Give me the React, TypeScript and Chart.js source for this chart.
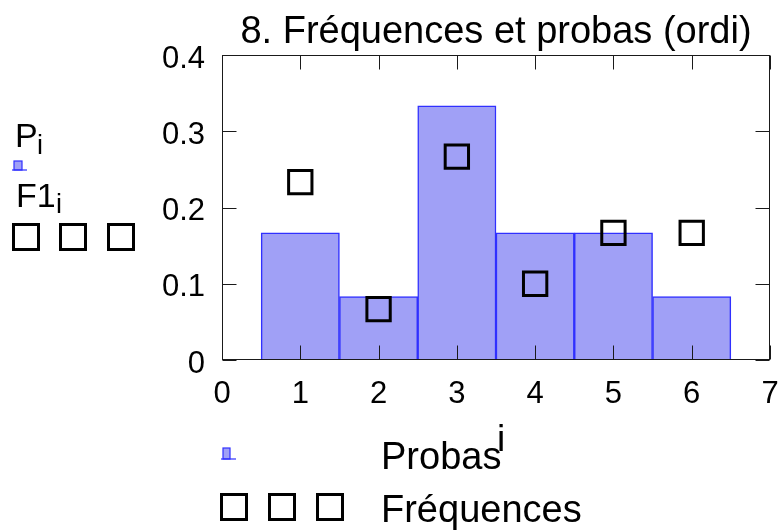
import { useEffect, useRef } from 'react';
import { Chart, registerables } from 'chart.js';

Chart.register(...registerables);

const categories = [1, 2, 3, 4, 5, 6];
const probas = [0.1667, 0.0833, 0.3333, 0.1667, 0.1667, 0.0833];
const frequences = [0.2333, 0.0667, 0.2667, 0.1, 0.1667, 0.1667];
const xTickValues = [0, 1, 2, 3, 4, 5, 6, 7];
const yTickValues = [0, 0.1, 0.2, 0.3, 0.4];
const titleText = '8. Fréquences et probas (ordi)';
const legendProbas = 'Probas';
const legendFreq = 'Fréquences';

const FONT = '"Liberation Sans", Arial, sans-serif';
const BAR_FILL = 'rgb(160,160,246)';
const BAR_EDGE = 'rgb(48,48,255)';

function drawSquare(ctx: CanvasRenderingContext2D, cx: number, cy: number, side: number) {
  ctx.save();
  ctx.strokeStyle = '#000';
  ctx.lineWidth = 3;
  ctx.strokeRect(cx - side / 2, cy - side / 2, side, side);
  ctx.restore();
}

function drawBarIcon(ctx: CanvasRenderingContext2D, x0: number, x1: number, yTop: number, yBase: number, baseL: number, baseR: number) {
  ctx.save();
  ctx.fillStyle = BAR_FILL;
  ctx.fillRect(x0, yTop, x1 - x0, yBase - yTop);
  ctx.strokeStyle = BAR_EDGE;
  ctx.lineWidth = 1.2;
  ctx.strokeRect(x0, yTop, x1 - x0, yBase - yTop);
  ctx.beginPath();
  ctx.moveTo(baseL, yBase);
  ctx.lineTo(baseR, yBase);
  ctx.stroke();
  ctx.restore();
}

const decorPlugin = {
  id: 'decor',
  afterDatasetsDraw(chart: any) {
    const ctx: CanvasRenderingContext2D = chart.ctx;
    const { left, right, top, bottom } = chart.chartArea;
    const xs = chart.scales.x;
    const ys = chart.scales.y;
    ctx.save();
    ctx.strokeStyle = '#1a1a1a';
    ctx.lineWidth = 1;
    const L = Math.round(left) + 0.5;
    const R = Math.round(right) - 0.5;
    const T = Math.round(top) + 0.5;
    const B = Math.round(bottom) - 0.5;
    ctx.strokeRect(L, T, R - L, B - T);
    const tl = 14;
    ctx.beginPath();
    xTickValues.forEach((v) => {
      const px = Math.round(xs.getPixelForValue(v)) + 0.5;
      ctx.moveTo(px, B);
      ctx.lineTo(px, B - tl);
      ctx.moveTo(px, T);
      ctx.lineTo(px, T + tl);
    });
    yTickValues.forEach((v) => {
      const py = Math.round(ys.getPixelForValue(v)) + 0.5;
      ctx.moveTo(L, py);
      ctx.lineTo(L + tl, py);
      ctx.moveTo(R, py);
      ctx.lineTo(R - tl, py);
    });
    ctx.stroke();
    ctx.restore();
  },
  afterDraw(chart: any) {
    const ctx: CanvasRenderingContext2D = chart.ctx;
    const { left, right } = chart.chartArea;
    ctx.save();
    ctx.fillStyle = '#000';
    ctx.textBaseline = 'alphabetic';
    // title
    ctx.font = `38px ${FONT}`;
    ctx.textAlign = 'center';
    ctx.fillText(titleText, (left + right) / 2, 43);
    // left labels
    ctx.textAlign = 'left';
    ctx.font = `34px ${FONT}`;
    ctx.fillText('P', 15, 147);
    ctx.fillText('F1', 16, 207);
    ctx.font = `27px ${FONT}`;
    ctx.fillText('i', 37, 154);
    ctx.fillText('i', 56, 213);
    drawBarIcon(ctx, 14, 22, 161, 170, 12, 27);
    drawSquare(ctx, 26, 237, 25);
    drawSquare(ctx, 73, 237, 25);
    drawSquare(ctx, 121, 237, 25);
    // bottom legend
    drawBarIcon(ctx, 223, 230, 448, 459, 221, 236);
    ctx.font = `38px ${FONT}`;
    ctx.fillText(legendProbas, 381, 469);
    ctx.font = `37px ${FONT}`;
    ctx.fillText('i', 497, 451);
    ctx.font = `38px ${FONT}`;
    ctx.fillText(legendFreq, 381, 522);
    drawSquare(ctx, 234, 507, 25);
    drawSquare(ctx, 282, 507, 25);
    drawSquare(ctx, 330, 507, 25);
    ctx.restore();
  },
};

export default function App() {
  const ref = useRef<HTMLCanvasElement | null>(null);
  useEffect(() => {
    if (!ref.current) return;
    const chart = new Chart(ref.current, {
      type: 'bar',
      data: {
        datasets: [
          {
            type: 'line',
            label: legendFreq,
            data: categories.map((c, i) => ({ x: c, y: frequences[i] })),
            showLine: false,
            pointStyle: 'rect',
            pointRadius: 16.5,
            pointHoverRadius: 16.5,
            pointBorderWidth: 3,
            pointBorderColor: '#000',
            pointBackgroundColor: 'rgba(0,0,0,0)',
            borderColor: '#000',
            backgroundColor: 'rgba(0,0,0,0)',
            order: 0,
          } as any,
          {
            type: 'bar',
            label: legendProbas,
            data: categories.map((c, i) => ({ x: c, y: probas[i] })),
            backgroundColor: BAR_FILL,
            borderColor: BAR_EDGE,
            borderWidth: 1.5,
            barPercentage: 1,
            categoryPercentage: 1,
            order: 1,
          } as any,
        ],
      },
      options: {
        animation: false,
        responsive: true,
        maintainAspectRatio: false,
        layout: { autoPadding: false, padding: { left: 0, right: 13, top: 55, bottom: 0 } },
        plugins: {
          legend: { display: false },
          tooltip: { enabled: false },
          title: { display: false },
        },
        scales: {
          x: {
            type: 'linear',
            min: 0,
            max: 7,
            offset: false,
            grid: { display: false, offset: false },
            border: { display: false },
            afterBuildTicks: (s: any) => {
              s.ticks = xTickValues.map((v) => ({ value: v }));
            },
            afterFit: (s: any) => {
              s.height = 171;
              s.paddingLeft = 0;
              s.paddingRight = 0;
            },
            ticks: {
              color: '#000',
              font: { family: FONT, size: 31 },
              padding: 8,
              maxRotation: 0,
              autoSkip: false,
              callback: (v: any) => String(v),
            },
          },
          y: {
            type: 'linear',
            min: 0,
            max: 0.4,
            grid: { display: false },
            border: { display: false },
            afterBuildTicks: (s: any) => {
              s.ticks = yTickValues.map((v) => ({ value: v }));
            },
            afterFit: (s: any) => {
              s.width = 222;
              s.paddingTop = 0;
              s.paddingBottom = 0;
            },
            ticks: {
              color: '#000',
              font: { family: FONT, size: 31 },
              padding: 9,
              labelOffset: 4,
              autoSkip: false,
              callback: (v: any) => (v === 0 ? '0' : Number(v).toFixed(1)),
            },
          },
        },
      },
      plugins: [decorPlugin],
    });
    return () => chart.destroy();
  }, []);
  return (
    <div style={{ position: 'absolute', left: 0, top: 0, width: 783, height: 531, background: '#fff' }}>
      <canvas ref={ref} />
    </div>
  );
}
